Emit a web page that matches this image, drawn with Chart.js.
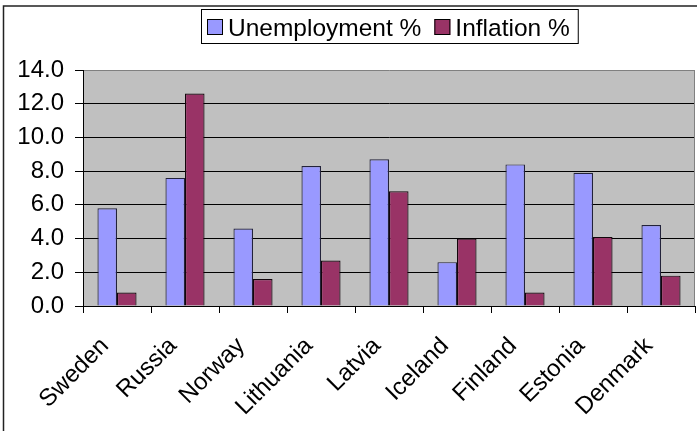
<!DOCTYPE html>
<html>
<head>
<meta charset="utf-8">
<script src="https://cdn.jsdelivr.net/npm/chart.js@4/dist/chart.umd.min.js"></script>
<style>
  body { margin: 0; background: #fff; }
  canvas { display: block; }
</style>
</head>
<body>
<canvas id="myChart" width="697" height="431"></canvas>
<script>
const countries = ['Sweden', 'Russia', 'Norway', 'Lithuania', 'Latvia', 'Iceland', 'Finland', 'Estonia', 'Denmark'];
const unemployment = [5.8, 7.6, 4.6, 8.3, 8.7, 2.6, 8.4, 7.9, 4.8];
const inflation = [0.8, 12.6, 1.6, 2.7, 6.8, 4.0, 0.8, 4.1, 1.8];
const seriesNames = ['Unemployment %', 'Inflation %'];
const yMin = 0, yMax = 14, yStep = 2;

const FONT = '"Liberation Sans", Arial, sans-serif';

// frame, grey plot background and boxed legend
const excelLook = {
    id: 'excelLook',
    beforeDraw(chart) {
        const {ctx, chartArea: {top, left, width, height}} = chart;
        ctx.save();
        ctx.fillStyle = '#fff';
        ctx.fillRect(0, 0, chart.width, chart.height);
        ctx.fillStyle = '#c0c0c0';
        ctx.fillRect(left, top, width, height);
        ctx.restore();
    },
    afterDraw(chart) {
        const {ctx, chartArea: {top, right, bottom}} = chart;
        ctx.save();
        // outer frame (cut off at right and bottom)
        ctx.strokeStyle = '#222';
        ctx.lineWidth = 1.5;
        ctx.beginPath();
        ctx.moveTo(3.5, chart.height);
        ctx.lineTo(3.5, 6);
        ctx.lineTo(chart.width, 6);
        ctx.stroke();
        // right plot edge
        ctx.strokeStyle = '#808080';
        ctx.lineWidth = 1;
        ctx.beginPath();
        ctx.moveTo(right - 0.5, top);
        ctx.lineTo(right - 0.5, bottom);
        ctx.stroke();

        // legend
        ctx.font = '24.5px ' + FONT;
        ctx.textBaseline = 'alphabetic';
        const boxX = 201, boxY = 9, boxH = 34, sw = 16;
        let x = boxX + 6;
        const items = chart.data.datasets.map(ds => ({text: ds.label, color: ds.backgroundColor}));
        const parts = [];
        items.forEach((it, i) => {
            parts.push({x: x, it: it});
            x += sw + 5 + ctx.measureText(it.text).width + (i < items.length - 1 ? 13 : 8);
        });
        const boxW = x - boxX;
        ctx.fillStyle = '#fff';
        ctx.fillRect(boxX, boxY, boxW, boxH);
        ctx.strokeStyle = '#000';
        ctx.lineWidth = 1;
        ctx.strokeRect(boxX + 0.5, boxY + 0.5, boxW, boxH);
        parts.forEach(p => {
            ctx.fillStyle = p.it.color;
            ctx.fillRect(p.x, boxY + 10, sw, sw);
            ctx.strokeStyle = '#000';
            ctx.strokeRect(p.x + 0.5, boxY + 10.5, sw - 1, sw - 1);
            ctx.fillStyle = '#000';
            ctx.fillText(p.it.text, p.x + sw + 5, boxY + 27);
        });
        ctx.restore();
    }
};

const myChart = new Chart(document.getElementById('myChart').getContext('2d'), {
    type: 'bar',
    data: {
        labels: countries,
        datasets: [{
            label: seriesNames[0],
            data: unemployment,
            backgroundColor: '#9999ff',
            borderColor: '#22223a',
            borderWidth: 1.2,
            categoryPercentage: 0.575,
            barPercentage: 1
        }, {
            label: seriesNames[1],
            data: inflation,
            backgroundColor: '#993366',
            borderColor: '#12060b',
            borderWidth: 1.2,
            categoryPercentage: 0.575,
            barPercentage: 1
        }]
    },
    options: {
        responsive: false,
        animation: false,
        layout: {
            padding: {top: 70, right: 2, bottom: 0, left: 0}
        },
        plugins: {
            legend: {display: false},
            tooltip: {enabled: false}
        },
        scales: {
            x: {
                afterFit: function (scale) {
                    scale.height = 125;
                    scale.paddingLeft = 0;
                    scale.paddingRight = 0;
                },
                grid: {
                    drawOnChartArea: false,
                    drawTicks: true,
                    tickLength: 7,
                    color: '#000'
                },
                border: {color: '#000', width: 1},
                ticks: {
                    color: '#000',
                    font: {family: FONT, size: 24},
                    minRotation: 45,
                    maxRotation: 45,
                    padding: 19,
                    labelOffset: -12,
                    autoSkip: false
                }
            },
            y: {
                min: yMin,
                max: yMax,
                afterFit: function (scale) { scale.width = 83; },
                grid: {
                    color: function (c) { return c.tick && c.tick.value === yMax ? '#808080' : '#000'; },
                    tickColor: '#000',
                    tickLength: 8
                },
                border: {color: '#000', width: 1},
                ticks: {
                    stepSize: yStep,
                    color: '#000',
                    font: {family: FONT, size: 24},
                    padding: 11,
                    callback: function (value) { return value.toFixed(1); }
                }
            }
        }
    },
    plugins: [excelLook]
});
</script>
</body>
</html>
